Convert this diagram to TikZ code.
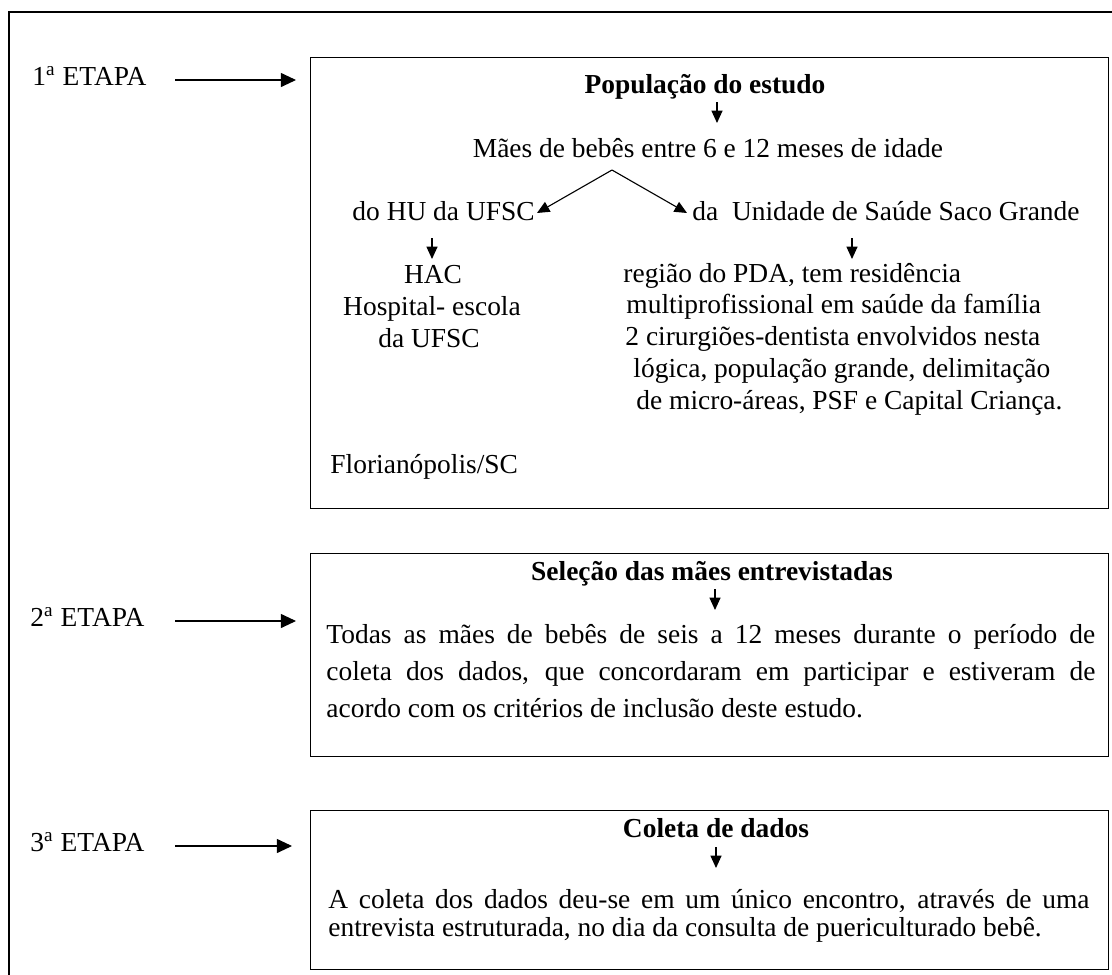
\documentclass[tikz,border=0pt]{standalone}
\usepackage{fontspec}
\setmainfont{Liberation Serif}
\usetikzlibrary{arrows.meta}
\begin{document}
\begin{tikzpicture}[x=0.45pt,y=-0.45pt,
  frame/.style={draw, line width=0.6pt},
  stagebox/.style={draw, line width=0.6pt, anchor=north west, minimum width=359.1pt, inner sep=0pt},
  txt/.style={inner sep=0pt, font=\fontsize{12.35}{14.8}\selectfont},
  boldtxt/.style={inner sep=0pt, anchor=base, font=\fontsize{12.35}{14.8}\selectfont\bfseries},
  lefttxt/.style={txt, anchor=base west},
  midtxt/.style={txt, anchor=base},
  bigarrow/.style={line width=0.5pt, -{Triangle[length=6.8pt,width=6.3pt]}},
  smallarrow/.style={line width=0.5pt, -{Triangle[length=5.6pt,width=5pt]}}
]
\useasboundingbox (0,0) rectangle (1112,975);
% outer frame (cut off on the right and bottom)
\draw[frame] (9,990) -- (9,12) -- (1125,12);

% ---------------- stage 1 ----------------
\node[lefttxt] (e1) at (32,85) {1\textsuperscript{a} ETAPA};
\coordinate (e1s) at (175,80);
\coordinate (e1e) at (296,80);
\draw[bigarrow] (e1s) -- (e1e);
\node[stagebox, minimum height=202.95pt] (box1) at (310,57) {};

\node[boldtxt] (t1) at (705,93) {População do estudo};
\coordinate (t1a) at (717,102);
\coordinate (t1b) at (717,123);
\draw[smallarrow] (t1a) -- (t1b);
\node[midtxt] (maes) at (708,157) {Mães de bebês entre 6 e 12 meses de idade};
\coordinate (apex) at (612,170);
\coordinate (lt) at (537,213);
\coordinate (rt) at (687,213);
\draw[smallarrow] (apex) -- (lt);
\draw[smallarrow] (apex) -- (rt);
\node[lefttxt] (hu) at (352,220) {do HU da UFSC};
\node[lefttxt] (us) at (692,220) {da\ \ Unidade de Saúde Saco Grande};
\coordinate (hua) at (432,238);
\coordinate (hub) at (432,259);
\draw[smallarrow] (hua) -- (hub);
\coordinate (usa) at (852,238);
\coordinate (usb) at (852,259);
\draw[smallarrow] (usa) -- (usb);
\node[midtxt] (hac1) at (433,283) {HAC};
\node[midtxt] (hac2) at (432,315) {Hospital- escola};
\node[midtxt] (hac3) at (429,347) {da UFSC};
\node[lefttxt] (r1) at (623,282) {região do PDA, tem residência};
\node[lefttxt] (r2) at (626,313) {multiprofissional em saúde da família};
\node[lefttxt] (r3) at (625,345) {2 cirurgiões-dentista envolvidos nesta};
\node[lefttxt] (r4) at (633,377) {lógica, população grande, delimitação};
\node[lefttxt] (r5) at (636,409) {de micro-áreas, PSF e Capital Criança.};
\node[lefttxt] (flo) at (330,473) {Florianópolis/SC};

% ---------------- stage 2 ----------------
\node[lefttxt] (e2) at (30,626) {2\textsuperscript{a} ETAPA};
\coordinate (e2s) at (175,621);
\coordinate (e2e) at (296,621);
\draw[bigarrow] (e2s) -- (e2e);
\node[stagebox, minimum height=91.35pt] (box2) at (310,553) {};
\node[boldtxt] (t2) at (712,580) {Seleção das mães entrevistadas};
\coordinate (t2a) at (715,589);
\coordinate (t2b) at (715,610);
\draw[smallarrow] (t2a) -- (t2b);
\node[lefttxt] (s1) at (326,643) {\makebox[346pt][s]{Todas as mães de bebês de seis a 12 meses durante o período de}};
\node[lefttxt] (s2) at (326,680) {\makebox[346pt][s]{coleta dos dados, que concordaram em participar e estiveram de}};
\node[lefttxt] (s3) at (326,717) {acordo com os critérios de inclusão deste estudo.};

% ---------------- stage 3 ----------------
\node[lefttxt] (e3) at (30,851) {3\textsuperscript{a} ETAPA};
\coordinate (e3s) at (175,846);
\coordinate (e3e) at (292,846);
\draw[bigarrow] (e3s) -- (e3e);
\node[stagebox, minimum height=71.55pt] (box3) at (310,810) {};
\node[boldtxt] (t3) at (716,837) {Coleta de dados};
\coordinate (t3a) at (716,847);
\coordinate (t3b) at (716,868);
\draw[smallarrow] (t3a) -- (t3b);
\node[lefttxt] (c1) at (328,908) {\makebox[342.5pt][s]{A coleta dos dados deu-se em um único encontro, através de uma}};
\node[lefttxt] (c2) at (328,936) {entrevista estruturada, no dia da consulta de puericulturado bebê.};
\end{tikzpicture}
\end{document}
